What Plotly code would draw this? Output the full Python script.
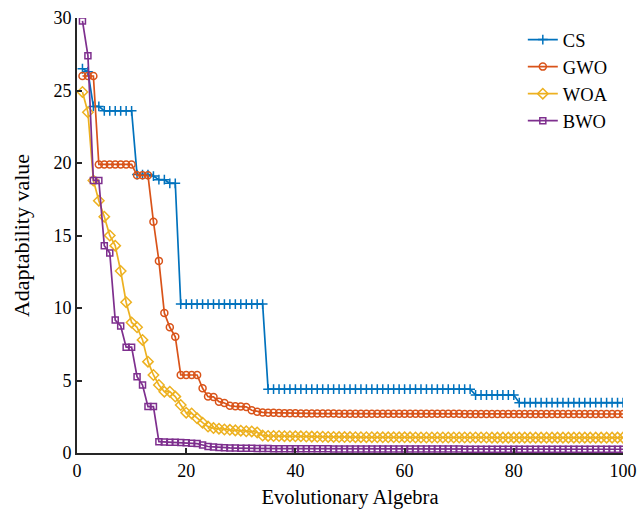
import plotly.graph_objects as go

# Iteration index (evolutionary generation)
generations = list(range(1, 101))

# Best fitness per generation for each optimiser
cs_fitness = [
    26.5, 26.3, 23.9, 23.9, 23.6, 23.6, 23.6, 23.6, 23.6, 23.6,
    19.2, 19.2, 19.2, 19.1, 18.85, 18.85, 18.6, 18.6, 10.27, 10.27,
    10.27, 10.27, 10.27, 10.27, 10.27, 10.27, 10.27, 10.27, 10.27, 10.27,
    10.27, 10.27, 10.27, 10.27, 4.4, 4.4, 4.4, 4.4, 4.4, 4.4,
    4.4, 4.4, 4.4, 4.4, 4.4, 4.4, 4.4, 4.4, 4.4, 4.4,
    4.4, 4.4, 4.4, 4.4, 4.4, 4.4, 4.4, 4.4, 4.4, 4.4,
    4.4, 4.4, 4.4, 4.4, 4.4, 4.4, 4.4, 4.4, 4.4, 4.4,
    4.4, 4.4, 4.0, 4.0, 4.0, 4.0, 4.0, 4.0, 4.0, 4.0,
    3.47, 3.47, 3.47, 3.47, 3.47, 3.47, 3.47, 3.47, 3.47, 3.47,
    3.47, 3.47, 3.47, 3.47, 3.47, 3.47, 3.47, 3.47, 3.47, 3.47,
]

gwo_fitness = [
    26.0, 26.0, 26.0, 19.9, 19.9, 19.9, 19.9, 19.9, 19.9, 19.9,
    19.15, 19.15, 19.15, 15.95, 13.25, 9.65, 8.67, 8.02, 5.38, 5.38,
    5.38, 5.38, 4.46, 3.89, 3.87, 3.54, 3.45, 3.26, 3.22, 3.2,
    3.18, 2.95, 2.85, 2.8, 2.78, 2.77, 2.76, 2.75, 2.75, 2.74,
    2.73, 2.73, 2.73, 2.72, 2.72, 2.72, 2.72, 2.71, 2.71, 2.71,
    2.71, 2.71, 2.7, 2.7, 2.7, 2.7, 2.7, 2.7, 2.7, 2.7,
    2.7, 2.7, 2.7, 2.7, 2.7, 2.7, 2.7, 2.7, 2.7, 2.7,
    2.69, 2.69, 2.69, 2.69, 2.69, 2.69, 2.69, 2.69, 2.69, 2.69,
    2.69, 2.69, 2.69, 2.69, 2.69, 2.69, 2.69, 2.69, 2.69, 2.69,
    2.69, 2.69, 2.69, 2.69, 2.69, 2.69, 2.69, 2.69, 2.69, 2.69,
]

woa_fitness = [
    24.9, 23.5, 18.8, 17.4, 16.3, 15.0, 14.3, 12.55, 10.4, 9.0,
    8.67, 7.8, 6.3, 5.38, 4.69, 4.23, 4.23, 3.89, 3.31, 2.78,
    2.73, 2.39, 2.09, 1.82, 1.72, 1.68, 1.62, 1.6, 1.56, 1.54,
    1.5, 1.49, 1.42, 1.2, 1.18, 1.17, 1.17, 1.16, 1.16, 1.15,
    1.15, 1.14, 1.13, 1.12, 1.12, 1.11, 1.11, 1.1, 1.1, 1.1,
    1.09, 1.09, 1.09, 1.09, 1.08, 1.08, 1.08, 1.08, 1.08, 1.08,
    1.08, 1.07, 1.07, 1.07, 1.07, 1.07, 1.07, 1.07, 1.07, 1.07,
    1.07, 1.07, 1.07, 1.07, 1.07, 1.06, 1.06, 1.06, 1.06, 1.06,
    1.06, 1.06, 1.06, 1.06, 1.06, 1.06, 1.06, 1.06, 1.06, 1.06,
    1.06, 1.06, 1.06, 1.06, 1.06, 1.06, 1.06, 1.06, 1.06, 1.06,
]

bwo_fitness = [
    29.8, 27.4, 18.8, 18.8, 14.3, 13.8, 9.17, 8.76, 7.3, 7.3,
    5.26, 4.69, 3.2, 3.2, 0.78, 0.76, 0.75, 0.74, 0.72, 0.7,
    0.68, 0.65, 0.55, 0.45, 0.42, 0.38, 0.36, 0.35, 0.34, 0.33,
    0.32, 0.32, 0.31, 0.31, 0.31, 0.3, 0.3, 0.3, 0.3, 0.3,
    0.29, 0.29, 0.29, 0.29, 0.29, 0.29, 0.28, 0.28, 0.28, 0.28,
    0.28, 0.28, 0.28, 0.28, 0.27, 0.27, 0.27, 0.27, 0.27, 0.27,
    0.27, 0.27, 0.27, 0.27, 0.27, 0.27, 0.27, 0.27, 0.27, 0.27,
    0.26, 0.26, 0.26, 0.26, 0.26, 0.26, 0.26, 0.26, 0.26, 0.26,
    0.26, 0.26, 0.26, 0.26, 0.26, 0.26, 0.26, 0.26, 0.26, 0.26,
    0.26, 0.26, 0.26, 0.26, 0.26, 0.26, 0.26, 0.26, 0.26, 0.26,
]

x_ticks = [0, 20, 40, 60, 80, 100]
y_ticks = [0, 5, 10, 15, 20, 25, 30]

series = [
    ("CS", cs_fitness, "#0072BD", "cross-thin", 7),
    ("GWO", gwo_fitness, "#D95319", "circle-open", 7),
    ("WOA", woa_fitness, "#EDB120", "diamond-open", 8),
    ("BWO", bwo_fitness, "#7E2F8E", "square-open", 6),
]

FONT = "Liberation Serif, Times New Roman, serif"
AXIS_COLOR = "#262626"

fig = go.Figure()
for name, values, color, symbol, size in series:
    fig.add_trace(go.Scatter(
        x=generations, y=values, name=name, mode="lines+markers",
        line=dict(color=color, width=1.7),
        marker=dict(symbol=symbol, size=size, color=color,
                    line=dict(color=color, width=1.5)),
    ))

fig.update_layout(
    width=643, height=512,
    margin=dict(l=77, r=20, t=18, b=59),
    paper_bgcolor="white", plot_bgcolor="white",
    font=dict(family=FONT, size=18, color="black"),
    showlegend=True,
    legend=dict(
        x=0.8165, y=0.993, xanchor="left", yanchor="top",
        bgcolor="rgba(0,0,0,0)", font=dict(family=FONT, size=18.5, color="black"),
        itemwidth=30, tracegroupgap=0,
    ),
)

fig.update_xaxes(
    range=[0, 100], tickvals=x_ticks, ticks="inside", ticklen=5,
    tickwidth=2, tickcolor=AXIS_COLOR, showline=True, linecolor=AXIS_COLOR,
    linewidth=2, showgrid=False, zeroline=False, automargin=False,
    tickfont=dict(family=FONT, size=18, color="black"),
    title=dict(text="Evolutionary Algebra", standoff=10,
               font=dict(family=FONT, size=20.5, color="black")),
)
fig.update_yaxes(
    range=[0, 30], tickvals=y_ticks, ticks="inside", ticklen=5,
    tickwidth=2, tickcolor=AXIS_COLOR, showline=True, linecolor=AXIS_COLOR,
    linewidth=2, showgrid=False, zeroline=False, automargin=False,
    tickfont=dict(family=FONT, size=18, color="black"),
    title=dict(text="Adaptability value", standoff=18,
               font=dict(family=FONT, size=22, color="black")),
)

fig.write_html("out.html")
